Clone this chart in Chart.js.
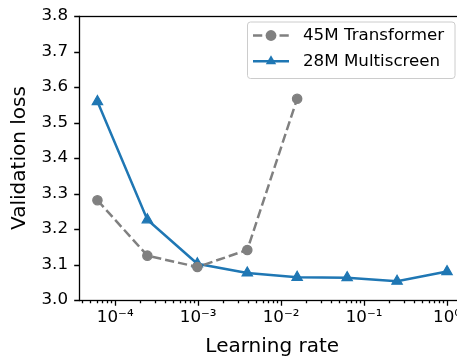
<!DOCTYPE html>
<html>
<head>
<meta charset="utf-8">
<script src="https://cdn.jsdelivr.net/npm/chart.js@4"></script>
<style>
  html, body { margin: 0; padding: 0; background: #fff; overflow: hidden; }
</style>
</head>
<body>
<canvas id="lossChart" width="476" height="360"></canvas>
<script>
    // Learning rates of each run
    const transformerLR = [6.1e-5, 2.44e-4, 9.77e-4, 3.91e-3, 1.56e-2];
    const multiscreenLR = [6.1e-5, 2.44e-4, 9.77e-4, 3.91e-3, 1.56e-2, 6.25e-2, 0.25, 1.0];

    // Validation loss per run
    const transformerLoss = [3.281, 3.125, 3.093, 3.141, 3.567];
    const multiscreenLoss = [3.559, 3.226, 3.102, 3.076, 3.064, 3.063, 3.053, 3.080];

    // Tick labels
    const xTickValues = [1e-4, 1e-3, 1e-2, 1e-1, 1];
    const xTickLabels = ['10⁻⁴', '10⁻³', '10⁻²', '10⁻¹', '10⁰'];
    const yTickValues = [3.0, 3.1, 3.2, 3.3, 3.4, 3.5, 3.6, 3.7, 3.8];

    const X_MIN = 3.76e-5;
    const X_MAX = 1.625;

    Chart.defaults.font.family = "'DejaVu Sans', sans-serif";
    Chart.defaults.color = '#000';

    function toPoints(xs, ys) {
        return xs.map((x, i) => ({ x: x, y: ys[i] }));
    }

    // minor ticks 2..9 in each decade, inside the axis range
    function logTicks() {
        const list = [];
        for (let e = -5; e <= 0; e++) {
            for (let m = 1; m <= 9; m++) {
                const v = m * Math.pow(10, e);
                if (v >= X_MIN && v <= X_MAX) list.push({ value: v });
            }
        }
        return list;
    }

    function isMajorX(v) {
        return xTickValues.some(t => Math.abs(v / t - 1) < 1e-6);
    }

    // tick marks, frame and matplotlib-style legend
    const decorPlugin = {
        id: 'decor',
        afterDraw(chart) {
            const ctx = chart.ctx;
            const area = chart.chartArea;
            const xs = chart.scales.x;
            const ys = chart.scales.y;
            ctx.save();
            ctx.strokeStyle = '#000';
            ctx.lineWidth = 1.3;
            ctx.beginPath();
            xs.ticks.forEach(t => {
                const px = Math.round(xs.getPixelForValue(t.value)) + 0.5;
                const len = isMajorX(t.value) ? 5.8 : 3.3;
                ctx.moveTo(px, area.bottom);
                ctx.lineTo(px, area.bottom + len);
            });
            ys.ticks.forEach(t => {
                const py = Math.round(ys.getPixelForValue(t.value)) + 0.5;
                ctx.moveTo(area.left, py);
                ctx.lineTo(area.left - 5.8, py);
            });
            ctx.stroke();
            ctx.strokeRect(Math.round(area.left) - 0.5, Math.round(area.top) + 0.5,
                Math.round(area.right - area.left) + 1, Math.round(area.bottom - area.top));

            // legend
            const bx = 247.5, by = 22, bw = 207.5, bh = 56.5, r = 3;
            ctx.beginPath();
            ctx.moveTo(bx + r, by);
            ctx.arcTo(bx + bw, by, bx + bw, by + bh, r);
            ctx.arcTo(bx + bw, by + bh, bx, by + bh, r);
            ctx.arcTo(bx, by + bh, bx, by, r);
            ctx.arcTo(bx, by, bx + bw, by, r);
            ctx.closePath();
            ctx.fillStyle = 'rgba(255,255,255,0.8)';
            ctx.fill();
            ctx.strokeStyle = '#cccccc';
            ctx.lineWidth = 1;
            ctx.stroke();

            const rows = [35.5, 61.3];
            chart.data.datasets.forEach((ds, i) => {
                const y = rows[i];
                ctx.strokeStyle = ds.borderColor;
                ctx.lineWidth = ds.borderWidth;
                ctx.setLineDash(ds.borderDash || []);
                ctx.beginPath();
                ctx.moveTo(253, y);
                ctx.lineTo(289, y);
                ctx.stroke();
                ctx.setLineDash([]);
                ctx.fillStyle = ds.pointBackgroundColor;
                ctx.beginPath();
                if (ds.pointStyle === 'triangle') {
                    ctx.moveTo(271, y - 6);
                    ctx.lineTo(276.2, y + 3);
                    ctx.lineTo(265.8, y + 3);
                    ctx.closePath();
                } else {
                    ctx.arc(271, y, 5.4, 0, Math.PI * 2);
                }
                ctx.fill();
                ctx.fillStyle = '#000';
                ctx.font = "16.7px 'DejaVu Sans', sans-serif";
                ctx.textBaseline = 'middle';
                ctx.textAlign = 'left';
                ctx.fillText(ds.label, 303, y + 0.5);
            });
            ctx.restore();
        }
    };

    const ctx = document.getElementById('lossChart').getContext('2d');
    new Chart(ctx, {
        type: 'line',
        data: {
            datasets: [{
                label: '45M Transformer',
                data: toPoints(transformerLR, transformerLoss),
                borderColor: '#808080',
                backgroundColor: '#808080',
                pointBackgroundColor: '#808080',
                pointBorderColor: '#808080',
                borderWidth: 2.5,
                borderDash: [9.25, 4],
                pointStyle: 'circle',
                pointRadius: 4.6,
                pointBorderWidth: 1.4,
                tension: 0
            }, {
                label: '28M Multiscreen',
                data: toPoints(multiscreenLR, multiscreenLoss),
                borderColor: '#1f77b4',
                backgroundColor: '#1f77b4',
                pointBackgroundColor: '#1f77b4',
                pointBorderColor: '#1f77b4',
                borderWidth: 2.5,
                pointStyle: 'triangle',
                pointRadius: 6,
                pointBorderWidth: 1.2,
                tension: 0
            }]
        },
        options: {
            responsive: false,
            animation: false,
            layout: { padding: { left: 0, top: 13, right: 11.5, bottom: 0 } },
            plugins: {
                legend: { display: false },
                tooltip: { enabled: false }
            },
            scales: {
                x: {
                    type: 'logarithmic',
                    min: X_MIN,
                    max: X_MAX,
                    afterBuildTicks: scale => { scale.ticks = logTicks(); },
                    afterFit: scale => { scale.height = 60; },
                    grid: { display: false, drawTicks: true, tickLength: 6 },
                    border: { display: false },
                    ticks: {
                        autoSkip: false,
                        maxRotation: 0,
                        padding: 2,
                        font: { size: 16.7 },
                        callback: function(value) {
                            const i = xTickValues.findIndex(t => Math.abs(value / t - 1) < 1e-6);
                            return i >= 0 ? xTickLabels[i] : '';
                        }
                    },
                    title: {
                        display: true,
                        text: 'Learning rate',
                        font: { size: 20 },
                        padding: { top: 0, bottom: 1 }
                    }
                },
                y: {
                    min: 3.0,
                    max: 3.8,
                    afterBuildTicks: scale => { scale.ticks = yTickValues.map(v => ({ value: v })); },
                    afterFit: scale => { scale.width = 80; },
                    grid: { display: false, drawTicks: true, tickLength: 6 },
                    border: { display: false },
                    ticks: {
                        padding: 6,
                        font: { size: 16.7 },
                        callback: value => value.toFixed(1)
                    },
                    title: {
                        display: true,
                        text: 'Validation loss',
                        font: { size: 20 },
                        padding: { top: 8, bottom: 0 }
                    }
                }
            }
        },
        plugins: [decorPlugin]
    });
</script>
</body>
</html>
